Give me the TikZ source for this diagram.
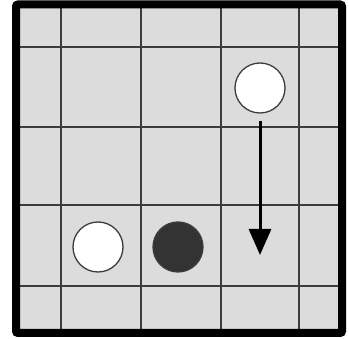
\documentclass[tikz,border=0pt]{standalone}
\usetikzlibrary{arrows.meta}
\definecolor{boardbg}{HTML}{DCDCDC}
\definecolor{gridc}{HTML}{3C3C3C}
\definecolor{darkstone}{HTML}{333333}
\tikzset{
  gridline/.style={draw=gridc, line width=2pt},
  stone/.style={circle, minimum size=50pt, inner sep=0pt, draw=gridc, line width=1.3pt},
  whitestone/.style={stone, fill=white},
  blackstone/.style={stone, fill=darkstone},
  movearrow/.style={draw=black, line width=3pt, -{Triangle[width=22pt,length=26pt]}}
}
\begin{document}
\begin{tikzpicture}[x=1pt,y=-1pt]
\useasboundingbox (0,0) rectangle (349,339);
\fill[white] (0,0) rectangle (349,339);
\fill[boardbg] (16,4.5) rectangle (342,333);
% grid
\foreach \x in {61,141,221,299} \draw[gridline] (\x,8) -- (\x,329);
\foreach \y in {47,127,205,286} \draw[gridline] (20,\y) -- (338,\y);
% border
\draw[line width=8pt, rounded corners=2pt] (16,4.5) rectangle (342,333);
% stones
\node[whitestone] (w1) at (260,88) {};
\node[whitestone] (w2) at (98,247) {};
\node[blackstone] (b1) at (178,247) {};
% arrow
\coordinate (a0) at (260,121);
\coordinate (a1) at (260,255);
\draw[movearrow] (a0) -- (a1);
\end{tikzpicture}
\end{document}
